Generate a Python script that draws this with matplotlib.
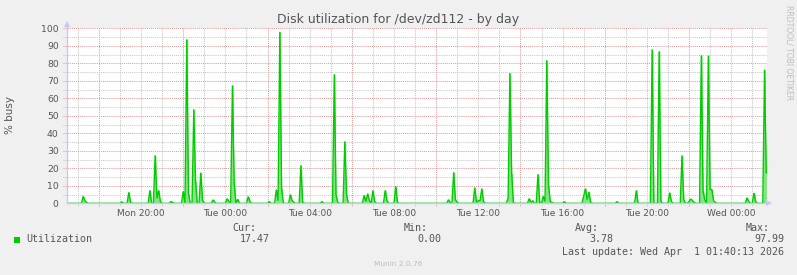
import numpy as np
import matplotlib
matplotlib.use("Agg")
import matplotlib.pyplot as plt
from matplotlib.patches import Rectangle

# ---------------- data ----------------
title = "Disk utilization for /dev/zd112 - by day"
ylabel = "% busy"
series_name = "Utilization"

# non-zero 5-minute samples (everything else is 0)
sample_times = [
    "Mon 17:15", "Mon 17:20", "Mon 17:25", "Mon 19:05", "Mon 19:25", "Mon 19:30",
    "Mon 20:25", "Mon 20:40", "Mon 20:45", "Mon 20:50", "Mon 20:55", "Mon 21:25",
    "Mon 21:30", "Mon 22:00", "Mon 22:10", "Mon 22:15", "Mon 22:30", "Mon 22:35",
    "Mon 22:50", "Mon 22:55", "Mon 23:25", "Mon 23:30", "Tue 00:05", "Tue 00:10",
    "Tue 00:20", "Tue 00:25", "Tue 00:35", "Tue 01:05", "Tue 01:10", "Tue 02:05",
    "Tue 02:25", "Tue 02:30", "Tue 02:35", "Tue 02:40", "Tue 03:05", "Tue 03:10",
    "Tue 03:15", "Tue 03:35", "Tue 03:40", "Tue 04:35", "Tue 05:10", "Tue 05:15",
    "Tue 05:20", "Tue 05:40", "Tue 05:45", "Tue 06:35", "Tue 06:40", "Tue 06:45",
    "Tue 06:50", "Tue 07:00", "Tue 07:05", "Tue 07:35", "Tue 07:40", "Tue 08:05",
    "Tue 08:10", "Tue 10:35", "Tue 10:40", "Tue 10:50", "Tue 10:55", "Tue 11:00",
    "Tue 11:50", "Tue 11:55", "Tue 12:00", "Tue 12:05", "Tue 12:10", "Tue 12:15",
    "Tue 13:25", "Tue 13:30", "Tue 13:35", "Tue 13:40", "Tue 14:25", "Tue 14:30",
    "Tue 14:35", "Tue 14:50", "Tue 14:55", "Tue 15:05", "Tue 15:10", "Tue 15:15",
    "Tue 15:20", "Tue 15:25", "Tue 15:30", "Tue 16:05", "Tue 17:00", "Tue 17:05",
    "Tue 17:10", "Tue 17:15", "Tue 17:20", "Tue 18:35", "Tue 19:30", "Tue 20:15",
    "Tue 20:35", "Tue 20:40", "Tue 21:05", "Tue 21:10", "Tue 21:40", "Tue 21:45",
    "Tue 22:00", "Tue 22:05", "Tue 22:10", "Tue 22:15", "Tue 22:35", "Tue 22:40",
    "Tue 22:45", "Tue 22:55", "Tue 23:00", "Tue 23:05", "Tue 23:10", "Tue 23:15",
    "Wed 00:45", "Wed 00:50", "Wed 01:05", "Wed 01:10", "Wed 01:35", "Wed 01:40",
]
sample_values = [
    4.0, 1.5, 0.5, 0.8, 6.3, 0.5,
    7.4, 27.4, 2.7, 7.4, 1.0, 1.0,
    0.5, 6.9, 93.7, 5.5, 53.7, 12.6,
    17.5, 1.7, 2.0, 0.5, 2.7, 1.0,
    67.4, 11.8, 2.3, 3.8, 1.0, 1.0,
    7.8, 1.5, 97.99, 8.4, 5.0, 1.5,
    0.5, 21.7, 0.5, 1.0, 73.7, 4.6,
    0.5, 35.4, 5.0, 4.6, 1.0, 5.5,
    1.5, 7.4, 1.0, 7.4, 1.5, 9.7,
    0.5, 2.1, 0.5, 17.7, 2.0, 0.5,
    9.0, 0.5, 1.5, 1.5, 8.4, 1.0,
    3.2, 74.4, 17.0, 0.5, 2.7, 0.5,
    1.5, 16.6, 0.5, 4.0, 1.0, 81.7,
    10.3, 1.0, 0.5, 1.0, 4.0, 8.4,
    2.1, 6.5, 0.5, 1.0, 7.4, 88.0,
    86.9, 1.0, 6.1, 1.0, 27.4, 2.1,
    1.0, 2.5, 1.5, 0.5, 84.6, 6.9,
    2.0, 84.4, 7.8, 7.8, 1.5, 0.5,
    3.2, 1.0, 5.9, 1.0, 76.4, 17.47,
]
first_sample = "Mon 16:30"
last_sample = "Wed 01:40"
x_range = ("Mon 16:29", "Wed 01:42")

tick_labels = ["Mon 20:00", "Tue 00:00", "Tue 04:00", "Tue 08:00",
               "Tue 12:00", "Tue 16:00", "Tue 20:00", "Wed 00:00"]
y_ticks = [0, 10, 20, 30, 40, 50, 60, 70, 80, 90, 100]

legend_stats = [("Cur:", "17.47"), ("Min:", "0.00"), ("Avg:", "3.78"), ("Max:", "97.99")]
last_update = "Last update: Wed Apr  1 01:40:13 2026"
footer = "Munin 2.0.76"
side_text = "RRDTOOL/ TOBI OETIKER"

# ---------------- helpers ----------------
DAY_OFF = {"Mon": 0, "Tue": 24, "Wed": 48}


def to_hours(s):
    d, hm = s.split()
    h, m = hm.split(":")
    return DAY_OFF[d] + int(h) + int(m) / 60.0


t0 = to_hours(first_sample)
t1 = to_hours(last_sample)
n = int(round((t1 - t0) * 12)) + 1
t = t0 + np.arange(n) / 12.0
v = np.zeros(n)
for s, val in zip(sample_times, sample_values):
    v[int(round((to_hours(s) - t0) * 12))] = val

W, H = 797, 275
BG = "#f0f0f0"
TXT = "#555555"


def fx(x):
    return x / W


def fy(y):
    return 1 - y / H


fig = plt.figure(figsize=(W / 100, H / 100), dpi=100, facecolor=BG)
ax = fig.add_axes([fx(67), fy(203.3), 700 / W, 175 / H])
ax.set_facecolor("white")
ax.set_xlim(to_hours(x_range[0]), to_hours(x_range[1]))
ax.set_ylim(0, 100)
for sp in ax.spines.values():
    sp.set_visible(False)

RED = "#e39a9a"
GRAY = "#c8c8c8"
dash = (0, (1, 1))

# vertical grid every hour, major every 4h at 18,22,...
xa, xb = ax.get_xlim()
for h in range(int(np.ceil(xa)), int(np.floor(xb)) + 1):
    major = (h - 18) % 4 == 0
    ax.plot([h, h], [-0.015, 1.0], transform=ax.get_xaxis_transform(),
            color=RED if major else GRAY, lw=0.75, ls=dash, clip_on=False, zorder=1)
# horizontal grid every 5, major every 10
for yv in range(5, 101, 5):
    major = yv % 10 == 0
    ax.plot([-0.006, 1.0], [yv, yv], transform=ax.get_yaxis_transform(),
            color=RED if major else GRAY, lw=0.75, ls=dash, clip_on=False, zorder=1)

# data
LIGHT = "#84e484"
ax.fill_between(t, 0, v, color=LIGHT, lw=0, zorder=2)
ax.fill_between(t, 0, v, step="mid", color=LIGHT, lw=0, zorder=2)
ax.plot(t, v, color="#00cc00", lw=1.0, zorder=3, solid_joinstyle="miter")

# axes with arrows
AX = "#c8c8f4"
ax.plot([xa, xa], [0, 102.5], color=AX, lw=1, clip_on=False, zorder=4)
ax.plot([xa], [102.5], marker="^", ms=4, color=AX, clip_on=False, zorder=4, mew=0)
ax.plot([xa, xb + 0.1], [0, 0], color=AX, lw=1, clip_on=False, zorder=4)
ax.plot([xb + 0.1], [0], marker=">", ms=4, color=AX, clip_on=False, zorder=4, mew=0)

# ticks and labels
ax.set_xticks([to_hours(s) for s in tick_labels])
ax.set_xticklabels(tick_labels)
ax.set_yticks(y_ticks)
ax.set_yticklabels([str(y) for y in y_ticks])
ax.tick_params(axis="x", length=0, pad=4, labelsize=6.5, labelcolor=TXT)
ax.tick_params(axis="y", length=0, pad=6, labelsize=6.7, labelcolor=TXT)

# title / labels
fig.text(fx(398), fy(19.5), title, ha="center", va="center", fontsize=9, color=TXT)
fig.text(fx(10), fy(115), ylabel, ha="center", va="center", rotation=90,
         fontsize=7.5, color=TXT)
fig.text(fx(789), fy(53), side_text, ha="center", va="center", rotation=270,
         fontsize=5.5, color="#bdbdbd")

# legend
mono = "DejaVu Sans Mono"
fig.patches.append(Rectangle((fx(14), fy(242.7)), 6 / W, 5.6 / H,
                             transform=fig.transFigure, color="#00cc00", lw=0))
fig.text(fx(26), fy(239.5), series_name, ha="left", va="center",
         family=mono, fontsize=7.2, color=TXT)
label_right = [256, 427.5, 599, 770]
value_right = [270, 441.5, 613, 784]
for (lab, val), lr, vr in zip(legend_stats, label_right, value_right):
    fig.text(fx(lr), fy(227.7), lab, ha="right", va="center", family=mono,
             fontsize=7.2, color=TXT)
    fig.text(fx(vr), fy(239.5), val, ha="right", va="center", family=mono,
             fontsize=7.2, color=TXT)
fig.text(fx(784), fy(251.7), last_update, ha="right", va="center", family=mono,
         fontsize=7.2, color=TXT)
fig.text(fx(398), fy(264.5), footer, ha="center", va="center", fontsize=5.3,
         color="#bdbdbd")

fig.savefig("out.png", dpi=100, facecolor=BG)
